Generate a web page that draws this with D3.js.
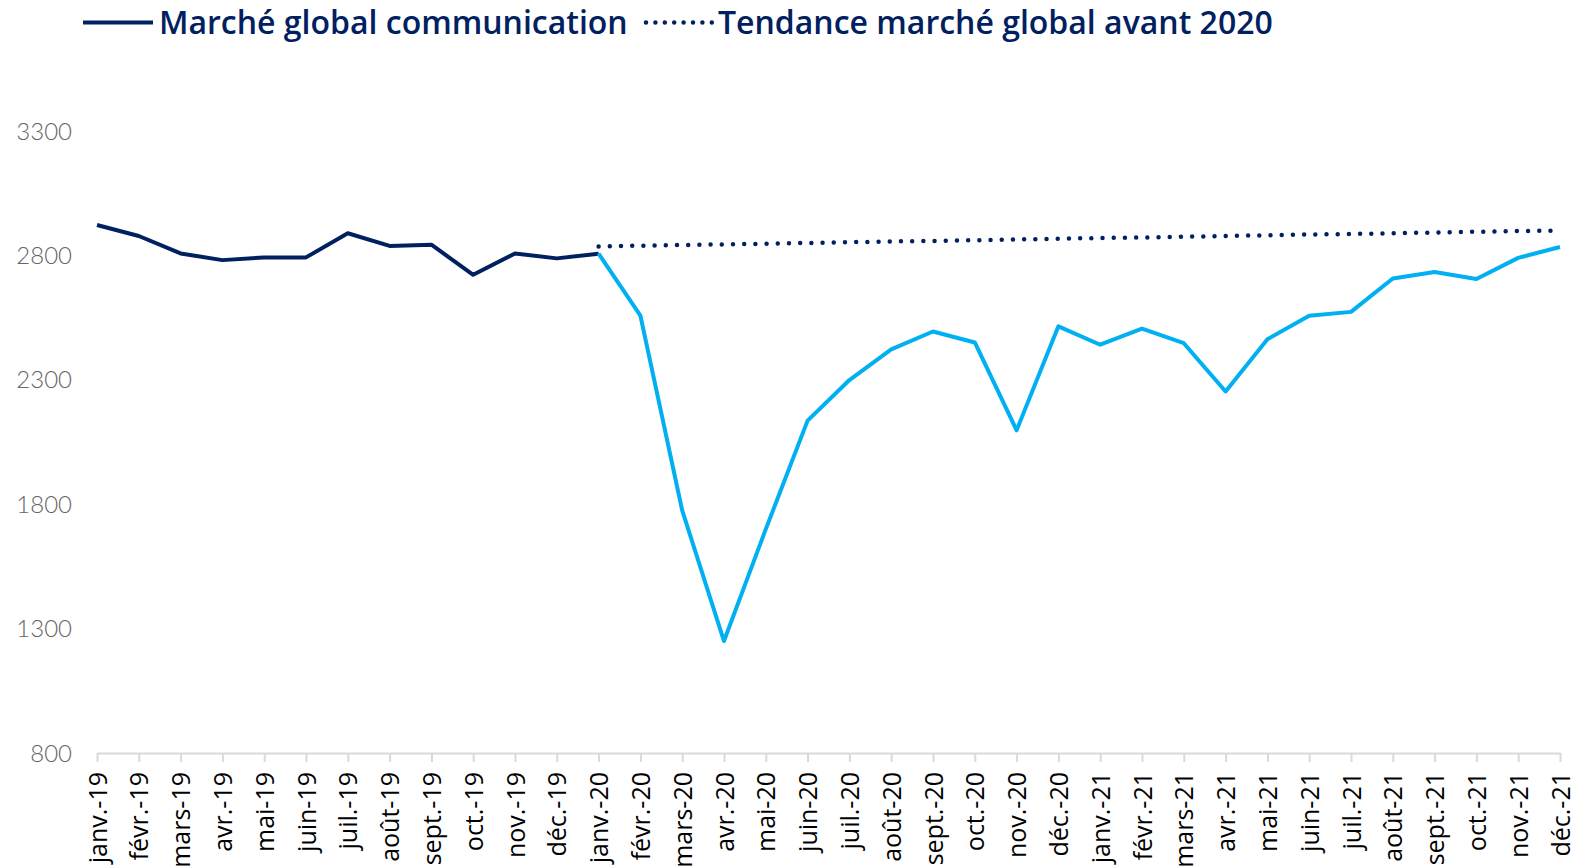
<!DOCTYPE html>
<html>
<head>
<meta charset="utf-8">
<script src="https://cdnjs.cloudflare.com/ajax/libs/d3/7.8.5/d3.min.js"></script>
<style>
  body { margin: 0; background: #fff; }
  #chart { width: 1596px; height: 868px; overflow: hidden; }
</style>
</head>
<body>
<div id="chart"></div>
<script>
// months on the x axis
var months = ["janv.-19","févr.-19","mars-19","avr.-19","mai-19","juin-19","juil.-19","août-19","sept.-19","oct.-19","nov.-19","déc.-19",
  "janv.-20","févr.-20","mars-20","avr.-20","mai-20","juin-20","juil.-20","août-20","sept.-20","oct.-20","nov.-20","déc.-20",
  "janv.-21","févr.-21","mars-21","avr.-21","mai-21","juin-21","juil.-21","août-21","sept.-21","oct.-21","nov.-21","déc.-21"];

// marché global communication, janv.-19 -> janv.-20 (dark part)
var before2020 = [2922, 2878, 2808, 2781, 2792, 2792, 2889, 2838, 2843, 2722, 2808, 2788, 2807];
// marché global communication, janv.-20 -> déc.-21 (light part)
var after2020 = [2807, 2558, 1775, 1250, 1700, 2136, 2299, 2422, 2494, 2450, 2097, 2515,
  2441, 2506, 2447, 2253, 2463, 2557, 2573, 2707, 2733, 2705, 2790, 2834];
// tendance marché global avant 2020, janv.-20 -> déc.-21
var trend = [2836, 2839, 2842, 2844, 2847, 2850, 2853, 2856, 2858, 2861, 2864, 2867,
  2870, 2872, 2875, 2878, 2881, 2884, 2886, 2889, 2892, 2895, 2898, 2900];

var yTicks = [800, 1300, 1800, 2300, 2800, 3300];

var legendLabels = ["Marché global communication", "Tendance marché global avant 2020"];

var navy = "#002060", cyan = "#00b0f0";

var svg = d3.select("#chart")
  .append("svg")
    .attr("width", 1596)
    .attr("height", 868);

var x = d3.scalePoint()
  .domain(months)
  .range([97, 1560]);

var y = d3.scaleLinear()
  .domain([800, 3300])
  .range([753, 131]);

// y labels, no axis line
svg.append("g")
  .selectAll("text")
  .data(yTicks)
  .enter().append("text")
    .attr("x", 72)
    .attr("y", function(d) { return y(d); })
    .attr("dy", "0.36em")
    .attr("text-anchor", "end")
    .style("font-family", "Lato, 'Open Sans', sans-serif")
    .style("font-weight", 300)
    .style("font-size", "24px")
    .style("fill", "#666")
    .text(function(d) { return d; });

// x axis
var xAx = svg.append("g")
  .attr("transform", "translate(0," + y(800) + ")")
  .call(d3.axisBottom(x).tickSize(9).tickSizeOuter(0).tickPadding(8));

xAx.select(".domain")
  .attr("stroke", "#d9d9d9")
  .attr("stroke-width", 2);
xAx.selectAll(".tick line")
  .attr("stroke", "#d9d9d9")
  .attr("stroke-width", 2);
xAx.selectAll("text")
  .attr("transform", "rotate(-90)")
  .attr("x", -19)
  .attr("y", 0)
  .attr("dy", "0.36em")
  .style("text-anchor", "end")
  .style("font-family", "'Open Sans', sans-serif")
  .style("font-size", "25px")
  .style("fill", "#000");

var line = d3.line()
  .x(function(d) { return x(d[0]); })
  .y(function(d) { return y(d[1]); });

// dotted trend
svg.append("path")
  .datum(trend.map(function(v, i) { return [months[12 + i], v]; }))
  .attr("fill", "none")
  .attr("stroke", navy)
  .attr("stroke-width", 4.5)
  .attr("stroke-linecap", "round")
  .attr("stroke-dasharray", "0 11.2")
  .attr("d", line);

// dark part
svg.append("path")
  .datum(before2020.map(function(v, i) { return [months[i], v]; }))
  .attr("fill", "none")
  .attr("stroke", navy)
  .attr("stroke-width", 4)
  .attr("stroke-linejoin", "round")
  .attr("d", line);

// light part
svg.append("path")
  .datum(after2020.map(function(v, i) { return [months[12 + i], v]; }))
  .attr("fill", "none")
  .attr("stroke", cyan)
  .attr("stroke-width", 4)
  .attr("stroke-linejoin", "round")
  .attr("d", line);

// legend
var leg = svg.append("g").attr("class", "legend");
leg.append("line")
  .attr("x1", 83).attr("x2", 153)
  .attr("y1", 22.5).attr("y2", 22.5)
  .attr("stroke", navy)
  .attr("stroke-width", 4);
leg.append("line")
  .attr("x1", 646).attr("x2", 712)
  .attr("y1", 22.5).attr("y2", 22.5)
  .attr("stroke", navy)
  .attr("stroke-width", 4.5)
  .attr("stroke-linecap", "round")
  .attr("stroke-dasharray", "0 9.4");

leg.selectAll("text")
  .data(legendLabels)
  .enter().append("text")
    .attr("x", function(d, i) { return i == 0 ? 159 : 718; })
    .attr("y", 33.5)
    .style("font-family", "'Open Sans', sans-serif")
    .style("font-weight", 600)
    .style("font-size", "32px")
    .style("fill", navy)
    .text(function(d) { return d; });
</script>
</body>
</html>
